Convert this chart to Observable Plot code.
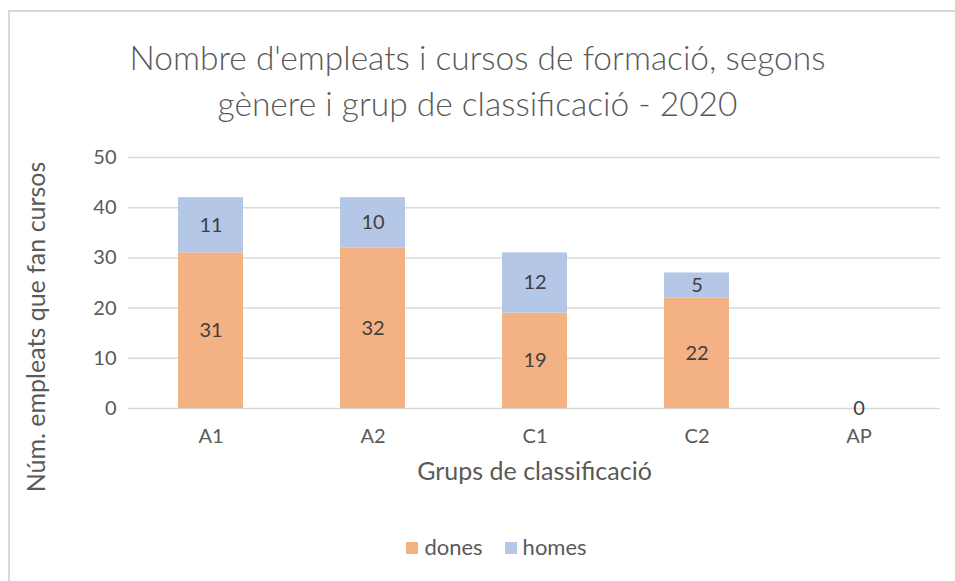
<!DOCTYPE html>
<html><head><meta charset="utf-8">
<script src="https://cdn.jsdelivr.net/npm/d3@7"></script>
<script src="https://cdn.jsdelivr.net/npm/@observablehq/plot@0.6"></script>
<style>
body{margin:0;background:#fff;font-family:Lato,"Open Sans",sans-serif}
#wrap{position:relative;width:955px;height:581px;overflow:hidden;background:#fff}
#frame{position:absolute;left:8px;top:10px;width:1000px;height:700px;border-left:2px solid #d9d9d9;border-top:2px solid #d9d9d9;box-sizing:border-box}
.title{position:absolute;left:0;width:955px;text-align:center;color:#595959;font-size:33.5px;font-weight:300;line-height:40px;white-space:nowrap}
#chart{position:absolute;left:0;top:0}
#legend{position:absolute;top:534px;left:19px;width:955px;text-align:center;color:#595959;font-size:22px;line-height:26px}
#legend span.sw{display:inline-block;width:12px;height:12px;margin-right:6px;vertical-align:1px}
#legend span.item{margin:0 11px}
</style></head>
<body>
<div id="wrap">
  <div id="frame"></div>
  <div id="chart"></div>
  <div class="title" style="top:37px">Nombre d'empleats i cursos de formació, segons</div>
  <div class="title" style="top:83px">gènere i grup de classificació - 2020</div>
  <div id="legend"></div>
</div>
<script>
const groups = ["A1","A2","C1","C2","AP"];
const dones = [31,32,19,22,0];
const homes = [11,10,12,5,0];
const series = ["dones","homes"];
const colors = ["#F4B183","#B4C7E7"];
const yTicks = [0,10,20,30,40,50];
const xTitle = "Grups de classificació";
const yTitle = "Núm. empleats que fan cursos";

const data = groups.flatMap((g,i)=>[
  {group:g, sex:"dones", value:dones[i]},
  {group:g, sex:"homes", value:homes[i]}
]);
const labelData = data.filter(d => d.value > 0 || d.sex === "dones");

const chart = Plot.plot({
  width:955, height:581,
  marginTop:157, marginBottom:173, marginLeft:128, marginRight:15,
  x:{domain:groups, paddingInner:0.6, paddingOuter:0.3, label:null},
  y:{domain:[0,50], label:null},
  color:{domain:series, range:colors},
  style:{fontFamily:"Lato, 'Open Sans', sans-serif", fontSize:"20px", color:"#595959", background:"transparent"},
  marks:[
    Plot.gridY(yTicks,{stroke:"#d9d9d9", strokeOpacity:1, strokeWidth:1.5}),
    Plot.barY(data, Plot.stackY({x:"group", y:"value", fill:"sex", order:series})),
    Plot.text(labelData, Plot.stackY({x:"group", y:"value", z:"sex", order:series, text:d=>String(d.value), fill:"#404040", fontSize:20})),
    Plot.axisY(yTicks,{tickSize:0, tickPadding:12, fontSize:20, fill:"#595959", label:null}),
    Plot.axisX({tickSize:0, tickPadding:20, fontSize:20, fill:"#595959", label:null}),
    Plot.text([xTitle],{frameAnchor:"bottom", dy:71, fontSize:25, fill:"#595959"}),
    Plot.text([yTitle],{frameAnchor:"left", textAnchor:"middle", dx:-92, dy:44, rotate:-90, fontSize:25, fill:"#595959"})
  ]
});
document.getElementById("chart").appendChild(chart);

const leg = document.getElementById("legend");
series.forEach((s,i)=>{
  const it = document.createElement("span"); it.className="item";
  const sw = document.createElement("span"); sw.className="sw"; sw.style.background=colors[i];
  it.appendChild(sw); it.appendChild(document.createTextNode(s));
  leg.appendChild(it);
});
</script>
</body></html>
